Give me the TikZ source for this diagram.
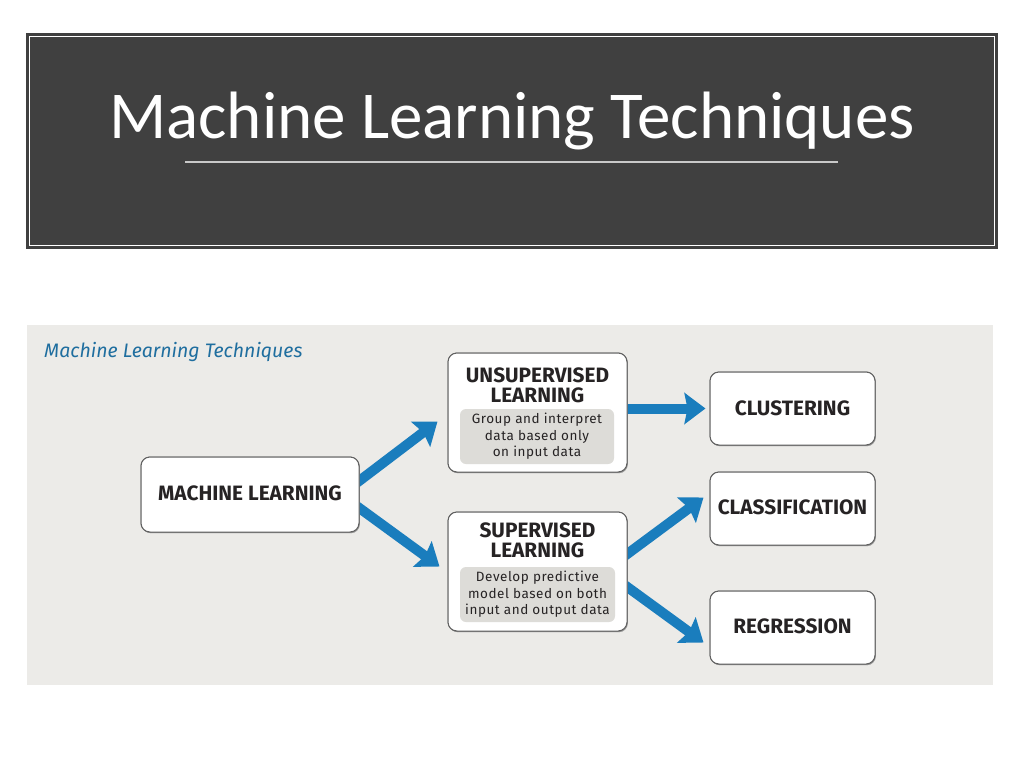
\documentclass[tikz,border=0pt]{standalone}
\usepackage{fontspec}
\setmainfont{Fira Sans}
\newfontfamily\titlefont{Carlito}
\newfontfamily\descfont[LetterSpace=4]{Fira Sans}
\usetikzlibrary{arrows.meta,calc,shadows}
\definecolor{hdr}{HTML}{404040}
\definecolor{panel}{HTML}{ECEBE8}
\definecolor{descgray}{HTML}{DDDCD8}
\definecolor{ablue}{HTML}{1A7DBD}
\definecolor{subblue}{HTML}{1F6E9F}
\definecolor{ink}{HTML}{262324}
\definecolor{rule}{HTML}{C9C9C9}
\tikzset{
  box/.style={draw=black!62, line width=1pt, fill=white, rounded corners=9pt,
    drop shadow={shadow xshift=0.8pt, shadow yshift=-1.2pt, fill=black!45, opacity=0.6},
    inner sep=0pt},
  lbl/.style={font=\bfseries\fontsize{20.8}{22}\selectfont, text=ink, inner sep=0pt},
  descbox/.style={fill=descgray, rounded corners=6pt, inner sep=0pt, align=center,
    font=\descfont\fontsize{13.5}{16.5}\selectfont, text=ink},
  arr/.style={draw=ablue, line width=10pt, -{Stealth[length=21pt,width=31pt,inset=3pt]}},
}
\begin{document}
\begin{tikzpicture}[x=1pt,y=-1pt]
\useasboundingbox (0,0) rectangle (1024,768);
\fill[white] (0,0) rectangle (1024,768);
% header
\fill[hdr] (26,33) rectangle (998,249);
\draw[white, line width=1.2pt] (29.5,36.5) rectangle (994.5,245.5);
\node[font=\titlefont\fontsize{67}{70}\selectfont, text=white, anchor=base, inner sep=0pt] (title) at (512,138) {Machine Learning Techniques};
\coordinate (ruleL) at (185,162);
\coordinate (ruleR) at (838,162);
\draw[rule, line width=2.8pt] (ruleL) -- (ruleR);
% panel
\fill[panel] (27,325) rectangle (993,685);
\node[anchor=base west, inner sep=0pt, text=subblue, font=\itshape\fontsize{19.5}{21}\selectfont] (sub) at (44,357) {Machine Learning Techniques};
% nodes (placed for anchors)
\path
  node[box, minimum width=218, minimum height=75] (ml) at (250,494.5) {}
  node[box, minimum width=179, minimum height=119] (unsup) at (537.5,412.5) {}
  node[box, minimum width=179, minimum height=119] (sup) at (537.5,571.5) {}
  node[box, minimum width=165, minimum height=73] (clus) at (792.5,408.5) {}
  node[box, minimum width=165, minimum height=73] (class) at (792.5,508.5) {}
  node[box, minimum width=165, minimum height=73] (reg) at (792.5,627.5) {};
% arrows
\draw[arr] ($(ml.east)+(-5,-10)$) -- ($(unsup.west)+(-10,9)$);
\draw[arr] ($(ml.east)+(-5,10)$) -- ($(sup.west)+(-8,-5)$);
\draw[arr] ($(unsup.east)+(-5,-4)$) -- ($(clus.west)+(-4,0)$);
\draw[arr] ($(sup.east)+(-5,-14)$) -- ($(class.west)+(-6,-11)$);
\draw[arr] ($(sup.east)+(-5,12)$) -- ($(reg.west)+(-6,15)$);
% boxes drawn over arrow starts
\node[box, minimum width=218, minimum height=75] at (ml) {};
\node[box, minimum width=179, minimum height=119] at (unsup) {};
\node[box, minimum width=179, minimum height=119] at (sup) {};
\node[box, minimum width=165, minimum height=73] at (clus) {};
\node[box, minimum width=165, minimum height=73] at (class) {};
\node[box, minimum width=165, minimum height=73] at (reg) {};
% labels
\node[lbl, anchor=base] (mlt) at (250,500.5) {MACHINE LEARNING};
\node[lbl, anchor=base] (unt1) at (537.5,382) {UNSUPERVISED};
\node[lbl, anchor=base] (unt2) at (537.5,402.5) {LEARNING};
\node[descbox, minimum width=154, minimum height=55] (und) at (537,436.5) {Group and interpret\\data based only\\on input data};
\node[lbl, anchor=base] (sut1) at (537.5,537) {SUPERVISED};
\node[lbl, anchor=base] (sut2) at (537.5,557.5) {LEARNING};
\node[descbox, minimum width=155, minimum height=55] (sud) at (537.5,594.5) {Develop predictive\\model based on both\\input and output data};
\node[lbl, anchor=base] (clust) at (792.5,415) {CLUSTERING};
\node[lbl, anchor=base] (classt) at (792.5,514) {CLASSIFICATION};
\node[lbl, anchor=base] (regt) at (792.5,633.5) {REGRESSION};
\end{tikzpicture}
\end{document}
